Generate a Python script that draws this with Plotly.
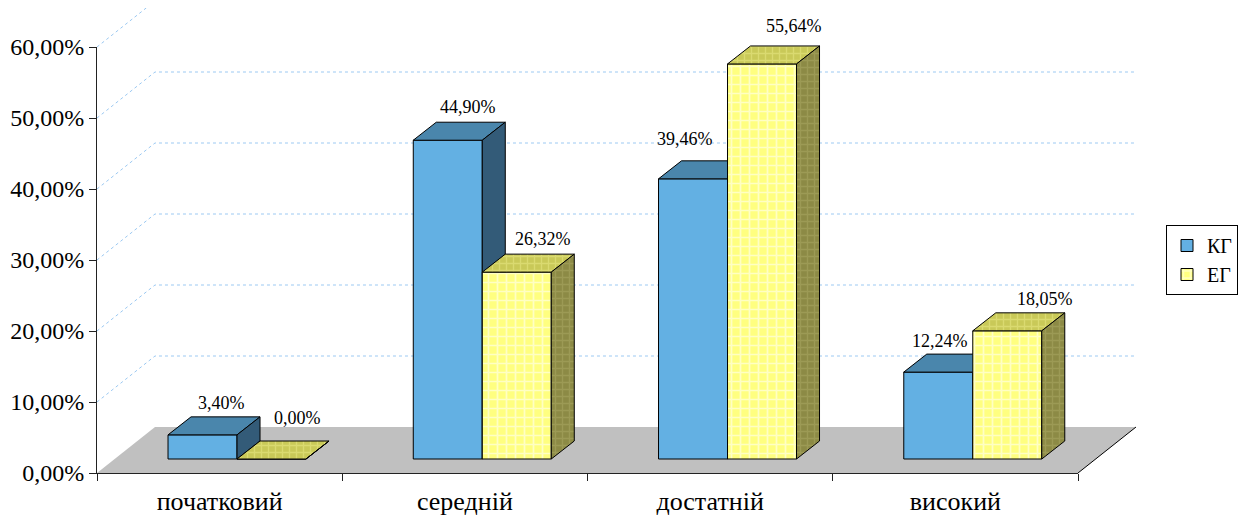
import plotly.graph_objects as go

# ---------------- data ----------------
categories = ["початковий", "середній", "достатній", "високий"]
kg_values = [3.40, 44.90, 39.46, 12.24]
eg_values = [0.00, 26.32, 55.64, 18.05]
series_names = ["КГ", "ЕГ"]
y_tick_values = [0, 10, 20, 30, 40, 50, 60]

# label nudges (px): x shift and lift above the top-back edge
kg_label_dx = [7, 9, -20, -10]
eg_label_dx = [14, 15, 20, 26]
kg_label_lift = [14, 15, 22, 13]
eg_label_lift = [23, 15, 20, 14]


def pct(v):
    return f"{v:.2f}".replace(".", ",") + "%"


# ---------------- geometry (pixels) ----------------
FIG_W, FIG_H = 1247, 518
AX_LEFT, AX_RIGHT = 97, 1078
AX_BOTTOM, AX_TOP = 473, 47
Y_MAX = 60
SX = (AX_RIGHT - AX_LEFT) / len(categories)   # px per category unit
SY = (AX_BOTTOM - AX_TOP) / Y_MAX             # px per percent unit

FDX, FDY = 58 / SX, 46 / SY          # floor depth
OX, OY = 17.4 / SX, 14 / SY          # bar offset into depth
BDX, BDY = 23 / SX, 18 / SY          # bar depth
BW = 69 / SX                         # bar width

DRAW_L, DRAW_R, DRAW_T, DRAW_B = 97, 1142, 8, 486
x_lo = -0.5
x_hi = -0.5 + (DRAW_R - DRAW_L) / SX
y_lo = -(DRAW_B - AX_BOTTOM) / SY
y_hi = (AX_BOTTOM - DRAW_T) / SY


def dom_x(a, b):
    return [a / FIG_W, b / FIG_W]


def dom_y(top, bottom):
    return [1 - bottom / FIG_H, 1 - top / FIG_H]


FONT = "Liberation Serif, Times New Roman, serif"

styles = [
    dict(front="#63B0E3", top="#4A86AC", side="#335B78",
         pattern=None, top_pattern=None, side_pattern=None),
    dict(front="#FFFF80", top="#C9C958", side="#8C8A45",
         pattern=dict(shape="+", bgcolor="#FFFF80", fgcolor="#FFFFC4", size=9, solidity=0.35, fillmode="replace"),
         top_pattern=dict(shape="+", bgcolor="#C9C958", fgcolor="#DADA70", size=7, solidity=0.35, fillmode="replace"),
         side_pattern=dict(shape="+", bgcolor="#8C8A45", fgcolor="#9C9A55", size=7, solidity=0.35, fillmode="replace")),
]

fig = go.Figure()

all_series = [kg_values, eg_values]
axes_pairs = [("x", "y"), ("x2", "y2")]
annotations = []
label_dx = [kg_label_dx, eg_label_dx]
label_lift = [kg_label_lift, eg_label_lift]

for s, values in enumerate(all_series):
    st = styles[s]
    xa, ya = axes_pairs[s]
    shift = -BW / 2 if s == 0 else BW / 2
    centers = [i + shift + OX for i in range(len(categories))]
    marker = dict(color=st["front"], line=dict(color="black", width=1))
    if st["pattern"]:
        marker["pattern"] = st["pattern"]
    fig.add_trace(go.Bar(
        x=centers, y=values, base=OY, width=BW, marker=marker,
        name=series_names[s], xaxis=xa, yaxis=ya, hoverinfo="skip",
    ))
    tx, ty, sx_, sy_ = [], [], [], []
    for c, v in zip(centers, values):
        xl, xr = c - BW / 2, c + BW / 2
        yt = OY + v
        tx += [xl, xr, xr + BDX, xl + BDX, xl, None]
        ty += [yt, yt, yt + BDY, yt + BDY, yt, None]
        sx_ += [xr, xr + BDX, xr + BDX, xr, xr, None]
        sy_ += [OY, OY + BDY, yt + BDY, yt, OY, None]
    top_kw = dict(fillpattern=st["top_pattern"]) if st["top_pattern"] else {}
    side_kw = dict(fillpattern=st["side_pattern"]) if st["side_pattern"] else {}
    fig.add_trace(go.Scatter(
        x=tx, y=ty, mode="lines", fill="toself", fillcolor=st["top"],
        line=dict(color="black", width=1), showlegend=False, hoverinfo="skip",
        xaxis=xa, yaxis=ya, **top_kw))
    fig.add_trace(go.Scatter(
        x=sx_, y=sy_, mode="lines", fill="toself", fillcolor=st["side"],
        line=dict(color="black", width=1), showlegend=False, hoverinfo="skip",
        xaxis=xa, yaxis=ya, **side_kw))
    for i, (c, v) in enumerate(zip(centers, values)):
        annotations.append(dict(
            x=c + BDX / 2, y=OY + v + BDY, xref="x", yref="y",
            text=pct(v), showarrow=False, xanchor="center", yanchor="middle",
            xshift=label_dx[s][i], yshift=label_lift[s][i],
            font=dict(family=FONT, size=18, color="black")))

# invisible trace carrying the category axis
fig.add_trace(go.Scatter(
    x=categories, y=kg_values, mode="markers", marker=dict(opacity=0),
    showlegend=False, hoverinfo="skip", xaxis="x3", yaxis="y3"))

# ---------------- shapes: floor and back-wall grid ----------------
shapes = []
x0f, x1f = -0.5, len(categories) - 0.5
shapes.append(dict(
    type="path", xref="x", yref="y", layer="below",
    path=f"M {x0f},0 L {x1f},0 L {x1f + FDX},{FDY} L {x0f + FDX},{FDY} Z",
    fillcolor="#C0C0C0", line=dict(width=0)))
shapes.append(dict(
    type="line", xref="x", yref="y", layer="below",
    x0=x1f, y0=0, x1=x1f + FDX, y1=FDY, line=dict(color="black", width=1)))
for v in y_tick_values[1:]:
    shapes.append(dict(
        type="path", xref="x", yref="y", layer="below",
        path=f"M {x0f},{v} L {x0f + FDX},{v + FDY} L {x1f + FDX},{v + FDY}",
        line=dict(color="#9CC9F2", width=1, dash="dot")))

fig.update_layout(
    width=FIG_W, height=FIG_H,
    margin=dict(l=0, r=0, t=0, b=0, autoexpand=False),
    paper_bgcolor="white", plot_bgcolor="rgba(0,0,0,0)",
    barmode="overlay",
    shapes=shapes, annotations=annotations,
    font=dict(family=FONT, color="black"),
    xaxis=dict(domain=dom_x(DRAW_L, DRAW_R), range=[x_lo, x_hi], visible=False, anchor="y"),
    yaxis=dict(domain=dom_y(DRAW_T, DRAW_B), range=[y_lo, y_hi], visible=False, anchor="x"),
    xaxis2=dict(overlaying="x", range=[x_lo, x_hi], visible=False, anchor="y2"),
    yaxis2=dict(overlaying="y", range=[y_lo, y_hi], visible=False, anchor="x2"),
    xaxis3=dict(domain=dom_x(AX_LEFT, AX_RIGHT), type="category", range=[-0.5, len(categories) - 0.5],
                anchor="y3", showline=True, linecolor="#222", linewidth=1,
                ticks="outside", tickson="boundaries", ticklen=7, tickcolor="#222",
                ticklabelstandoff=5,
                tickfont=dict(family=FONT, size=26, color="black"), showgrid=False, zeroline=False),
    yaxis3=dict(domain=dom_y(AX_TOP, AX_BOTTOM), range=[0, Y_MAX], anchor="x3",
                tickvals=y_tick_values, ticktext=[pct(v) for v in y_tick_values],
                showline=True, linecolor="#222", linewidth=1,
                ticks="outside", ticklen=7, tickcolor="#222",
                tickfont=dict(family=FONT, size=24, color="black"), showgrid=False, zeroline=False),
    legend=dict(x=1166 / FIG_W, xanchor="left", y=1 - 225 / FIG_H, yanchor="top",
                bordercolor="black", borderwidth=1, bgcolor="white",
                font=dict(family=FONT, size=20, color="black"), traceorder="normal"),
    showlegend=True,
)

fig.write_html("out.html")
